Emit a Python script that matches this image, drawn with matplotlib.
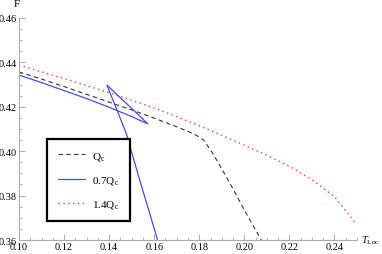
import numpy as np
import matplotlib
matplotlib.use('Agg')
import matplotlib.pyplot as plt
from matplotlib.ticker import MultipleLocator

# Qc curve (dashed)
qc_t = [0.10, 0.11, 0.12, 0.13, 0.14, 0.15, 0.16, 0.17, 0.178, 0.182, 0.186, 0.19, 0.195, 0.20, 0.2075]
qc_f = [0.4357, 0.4325, 0.4291, 0.4256, 0.4221, 0.4186, 0.4149, 0.4110, 0.4076, 0.4050, 0.3990, 0.3920, 0.3830, 0.3735, 0.3600]

# 0.7Qc curve (swallowtail, solid blue)
lo_t = [0.10, 0.11, 0.12, 0.13, 0.14, 0.15, 0.1572, 0.148, 0.139, 0.1435, 0.1477, 0.151, 0.1543, 0.158, 0.162]
lo_f = [0.4343, 0.4309, 0.4273, 0.4237, 0.4198, 0.4156, 0.4123, 0.4212, 0.4298, 0.4185, 0.4077, 0.3960, 0.3845, 0.3720, 0.3582]

# 1.4Qc curve (dotted red)
hi_t = [0.10, 0.12, 0.14, 0.16, 0.18, 0.20, 0.21, 0.22, 0.23, 0.24, 0.249]
hi_f = [0.4388, 0.4327, 0.4264, 0.4195, 0.4115, 0.4027, 0.3982, 0.3932, 0.3872, 0.3795, 0.3680]

plt.rcParams['font.family'] = ['Liberation Serif', 'DejaVu Serif']
plt.rcParams['mathtext.fontset'] = 'custom'
plt.rcParams['mathtext.rm'] = 'Liberation Serif'
plt.rcParams['mathtext.it'] = 'Liberation Serif:italic'

fig = plt.figure(figsize=(3.82, 2.55), dpi=100)
ax = fig.add_axes([0.0497, 0.0549, 0.8849, 0.8706])

ax.plot(qc_t, qc_f, color='#333333', lw=0.8, ls=(0, (4, 3)), label=r'Q$_{\rm c}$')
ax.plot(lo_t, lo_f, color='#4848ff', lw=0.9, label=r'0.7Q$_{\rm c}$')
ax.plot(hi_t, hi_f, color='#ff3838', lw=1.0, ls=(0, (1, 2.5)), label=r'1.4Q$_{\rm c}$')

ax.set_xlim(0.10, 0.25)
ax.set_ylim(0.36, 0.46)
ax.xaxis.set_major_locator(MultipleLocator(0.02))
ax.xaxis.set_minor_locator(MultipleLocator(0.005))
ax.yaxis.set_major_locator(MultipleLocator(0.02))
ax.yaxis.set_minor_locator(MultipleLocator(0.005))
ax.xaxis.set_major_formatter(matplotlib.ticker.FormatStrFormatter('%.2f'))
ax.yaxis.set_major_formatter(matplotlib.ticker.FormatStrFormatter('%.2f'))

for s in ['top', 'right']:
    ax.spines[s].set_visible(False)
for s in ['left', 'bottom']:
    ax.spines[s].set_color('#aaaaaa')
    ax.spines[s].set_linewidth(0.8)
ax.tick_params(which='both', direction='in', color='#aaaaaa', labelsize=7.5, pad=1.5)
ax.tick_params(which='major', length=4, width=0.7)
ax.tick_params(which='minor', length=2, width=0.6)

ax.text(-0.005, 1.045, 'F', transform=ax.transAxes, fontsize=8, ha='center', va='bottom')
ax.text(1.012, 0.0, r'$T_{\rm Loc}$', transform=ax.transAxes, fontsize=7.5, ha='left', va='center')

leg = ax.legend(loc='center', bbox_to_anchor=(0.0888, 0.0856, 0.234, 0.369),
                fontsize=8, handlelength=2.4, labelspacing=1.1, borderpad=1.0,
                fancybox=False, framealpha=1, edgecolor='black', handletextpad=0.6)
leg.get_frame().set_linewidth(1.6)

fig.savefig('out.png', dpi=100)
